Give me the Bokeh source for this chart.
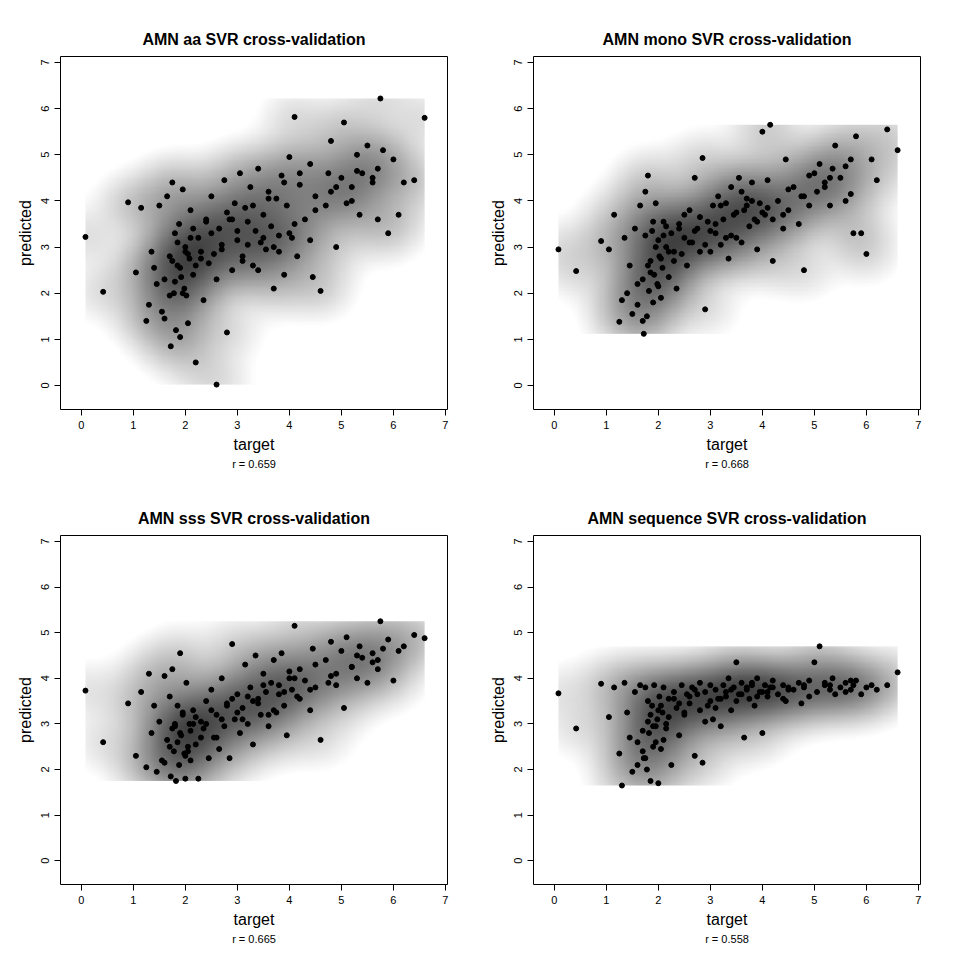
import numpy as np
from bokeh.plotting import figure
from bokeh.layouts import gridplot
from bokeh.models import FixedTicker, Title, LinearColorMapper
from bokeh.embed import file_html
from bokeh.resources import INLINE

target = [0.08, 0.42, 0.90, 1.05, 1.15, 1.25, 1.30, 1.35, 1.40, 1.45,
          1.50, 1.55, 1.60, 1.65, 1.70, 1.72, 1.75, 1.78, 1.80, 1.82,
          1.85, 1.88, 1.90, 1.92, 1.95, 1.98, 2.00, 2.02, 2.05, 2.08,
          2.10, 2.15, 2.20, 2.25, 2.30, 2.35, 2.40, 2.45, 2.50, 2.55,
          2.60, 2.65, 2.70, 2.75, 2.80, 2.85, 2.90, 2.95, 3.00, 3.05,
          3.10, 3.15, 3.20, 3.25, 3.30, 3.35, 3.40, 3.45, 3.50, 3.55,
          3.60, 3.65, 3.70, 3.75, 3.80, 3.85, 3.90, 3.95, 4.00, 4.05,
          4.10, 4.15, 4.20, 4.30, 4.40, 4.45, 4.50, 4.60, 4.70, 4.75,
          4.80, 4.90, 5.00, 5.05, 5.10, 5.20, 5.30, 5.35, 5.40, 5.50,
          5.60, 5.70, 5.75, 5.80, 5.90, 6.00, 6.10, 6.20, 6.40, 6.60,
          1.60, 1.75, 1.85, 1.95, 2.05, 2.15, 2.30, 2.50, 2.70, 2.90,
          3.10, 3.30, 3.50, 3.70, 3.90, 4.10, 4.40, 4.80, 5.20, 5.60,
          1.70, 1.80, 1.90, 2.00, 2.10, 2.20, 2.40, 2.60, 2.80, 3.00,
          3.20, 3.40, 3.60, 3.80, 4.00, 4.20, 4.50, 4.90, 5.30, 5.70]

pred_aa = [3.22, 2.03, 3.97, 2.45, 3.85, 1.40, 1.75, 2.90, 2.55, 2.20,
           3.90, 1.60, 1.45, 4.10, 2.80, 0.85, 4.40, 2.00, 3.30, 1.20,
           2.60, 3.50, 1.05, 2.35, 4.25, 2.10, 3.00, 1.95, 1.35, 2.75,
           3.80, 2.40, 0.50, 3.20, 2.90, 1.85, 3.55, 2.65, 4.10, 2.85,
           0.02, 3.40, 2.95, 4.45, 1.15, 3.60, 2.50, 3.95, 3.15, 4.60,
           2.70, 3.85, 3.05, 4.30, 2.60, 3.35, 4.70, 3.10, 3.70, 2.95,
           4.20, 3.45, 2.10, 4.05, 3.25, 4.55, 2.40, 3.90, 4.95, 3.20,
           5.82, 2.80, 4.35, 3.60, 4.80, 2.35, 4.10, 2.05, 3.90, 4.60,
           5.30, 3.00, 4.50, 5.70, 3.95, 4.30, 5.00, 3.70, 4.60, 5.20,
           4.40, 4.70, 6.22, 5.10, 3.30, 4.90, 3.70, 4.40, 4.45, 5.80,
           2.30, 2.70, 3.10, 2.00, 2.85, 3.40, 2.75, 3.30, 3.05, 3.60,
           2.80, 3.90, 3.20, 3.00, 4.40, 3.50, 3.15, 4.20, 4.00, 4.50,
           1.95, 2.25, 2.55, 2.90, 3.20, 2.60, 3.60, 2.30, 3.75, 3.35,
           3.55, 2.50, 4.05, 2.90, 3.30, 4.60, 3.80, 4.30, 4.65, 3.60]

pred_mono = [2.95, 2.48, 3.13, 2.95, 3.70, 1.38, 1.85, 3.20, 2.00, 2.60,
             1.55, 3.40, 1.75, 3.90, 2.30, 1.12, 4.20, 1.50, 4.55, 2.05,
             2.70, 3.35, 1.80, 2.40, 3.95, 2.20, 3.15, 2.80, 1.90, 2.55,
             3.55, 3.00, 2.35, 3.30, 2.70, 2.10, 3.50, 2.85, 3.20, 2.60,
             3.80, 3.10, 4.50, 3.40, 2.90, 4.93, 1.65, 3.55, 2.90, 3.90,
             3.30, 4.10, 3.05, 3.60, 3.95, 2.75, 4.30, 3.70, 3.20, 4.50,
             3.10, 3.80, 4.05, 3.45, 4.40, 3.60, 2.95, 3.95, 5.50, 3.70,
             3.85, 5.65, 2.70, 4.00, 3.40, 4.90, 3.80, 4.30, 3.50, 4.10,
             2.50, 3.90, 4.60, 4.20, 4.80, 4.40, 3.90, 4.70, 5.20, 4.50,
             4.00, 4.90, 3.30, 5.40, 3.30, 2.85, 4.90, 4.45, 5.55, 5.10,
             2.20, 3.25, 2.45, 3.00, 2.75, 3.45, 2.90, 3.70, 3.35, 3.05,
             3.50, 3.20, 3.75, 3.90, 3.55, 4.45, 3.70, 4.10, 4.30, 4.75,
             1.40, 2.60, 3.55, 2.15, 3.25, 2.90, 3.40, 3.10, 3.65, 3.35,
             3.90, 3.25, 4.20, 4.00, 3.75, 3.60, 4.25, 4.55, 4.50, 4.15]

pred_sss = [3.73, 2.60, 3.45, 2.30, 3.70, 2.05, 4.10, 2.80, 3.40, 1.95,
            3.05, 2.20, 4.05, 2.65, 3.60, 1.85, 4.20, 2.40, 2.95, 1.75,
            3.40, 2.10, 4.55, 2.75, 3.20, 2.35, 1.80, 3.90, 2.50, 3.00,
            2.20, 3.30, 2.55, 1.80, 3.05, 2.90, 3.50, 2.25, 3.75, 2.70,
            3.20, 2.45, 4.00, 2.95, 3.45, 2.25, 4.75, 3.10, 3.65, 2.80,
            3.35, 4.30, 3.00, 3.80, 2.55, 4.50, 3.55, 3.20, 4.10, 3.70,
            2.95, 3.90, 4.40, 3.25, 3.65, 4.55, 3.40, 2.75, 4.00, 3.75,
            5.15, 3.60, 4.20, 3.95, 3.30, 4.65, 3.80, 2.65, 4.40, 3.90,
            4.80, 3.85, 4.60, 3.35, 4.90, 4.25, 4.00, 4.70, 4.45, 3.90,
            4.55, 4.20, 5.25, 4.65, 4.85, 3.95, 4.60, 4.70, 4.95, 4.88,
            2.15, 2.90, 2.60, 3.25, 2.40, 3.00, 2.70, 3.30, 3.10, 3.55,
            3.10, 3.50, 3.85, 3.30, 3.70, 4.00, 3.75, 4.05, 4.25, 4.35,
            2.50, 3.00, 2.80, 2.30, 2.85, 3.15, 3.00, 2.70, 3.40, 3.25,
            3.60, 3.45, 3.20, 3.85, 4.15, 3.55, 4.30, 4.10, 4.50, 4.40]

pred_seq = [3.67, 2.90, 3.88, 3.15, 3.80, 2.35, 1.65, 3.90, 3.25, 2.70,
            1.95, 3.70, 2.10, 3.85, 2.40, 2.25, 3.80, 2.00, 3.50, 2.80,
            1.75, 3.40, 2.95, 3.85, 2.60, 3.10, 1.70, 3.60, 2.45, 3.25,
            3.80, 2.90, 3.55, 2.10, 3.70, 3.35, 2.75, 3.85, 3.20, 3.65,
            3.45, 3.80, 2.30, 3.65, 3.90, 2.15, 3.70, 3.40, 3.85, 3.10,
            3.75, 3.55, 2.95, 3.85, 3.60, 4.00, 3.30, 3.80, 4.35, 3.65,
            3.90, 2.70, 3.75, 3.55, 3.85, 3.40, 4.00, 3.70, 2.80, 3.85,
            3.60, 3.80, 3.95, 3.65, 3.85, 3.50, 3.80, 3.75, 3.90, 3.45,
            3.80, 3.95, 4.35, 3.70, 4.70, 3.85, 3.75, 4.00, 3.65, 3.80,
            3.90, 3.75, 3.85, 3.95, 3.65, 3.80, 3.85, 3.75, 3.85, 4.13,
            2.60, 2.25, 3.20, 2.95, 3.40, 3.00, 3.55, 3.25, 3.75, 3.05,
            3.35, 3.70, 3.50, 3.80, 3.60, 3.70, 3.55, 3.85, 3.90, 3.70,
            2.85, 3.05, 2.50, 3.30, 2.65, 3.15, 3.45, 3.60, 3.30, 3.50,
            3.55, 3.75, 3.65, 3.90, 3.70, 3.80, 3.75, 3.60, 3.85, 3.95]

titles = ["AMN aa SVR cross-validation", "AMN mono SVR cross-validation",
          "AMN sss SVR cross-validation", "AMN sequence SVR cross-validation"]
r_labels = ["r = 0.659", "r = 0.668", "r = 0.665", "r = 0.558"]
ticks = [0, 1, 2, 3, 4, 5, 6, 7]

FONT = "Liberation Sans"
gray = ["#%02x%02x%02x" % (v, v, v) for v in np.linspace(255, 0, 256).astype(int)]


def panel(x, y, title, rlab, borders):
    left, right, top, bottom = borders
    w = left + 387 + right
    h = top + 353 + bottom
    p = figure(width=w, height=h, x_range=(-0.4, 7.04), y_range=(-0.52, 7.13),
               output_backend="svg", toolbar_location=None,
               min_border_left=left, min_border_right=right,
               min_border_top=top, min_border_bottom=bottom)
    p.grid.visible = False
    p.outline_line_color = "black"
    p.outline_line_width = 1
    x = np.array(x); y = np.array(y)
    x0, x1, y0, y1 = x.min(), x.max(), y.min(), y.max()
    gx = np.linspace(x0, x1, 160); gy = np.linspace(y0, y1, 160)
    X, Y = np.meshgrid(gx, gy)
    bw = 0.4
    d = np.zeros_like(X)
    for a, b in zip(x, y):
        d += np.exp(-((X - a) ** 2 + (Y - b) ** 2) / (2 * bw * bw))
    d = (d / d.max()) ** 0.5
    cm = LinearColorMapper(palette=gray, low=0.1, high=1.3)
    p.image(image=[d], x=x0, y=y0, dw=x1 - x0, dh=y1 - y0, color_mapper=cm)
    p.scatter(x, y, size=5, color="black")
    p.title.text = title
    p.title.align = "center"
    p.title.text_color = "black"
    p.title.text_font = FONT
    p.title.text_font_size = "16px"
    p.title.text_font_style = "bold"
    p.title.standoff = 18
    for ax in (p.xaxis[0], p.yaxis[0]):
        ax.ticker = FixedTicker(ticks=ticks)
        ax.axis_line_color = None
        ax.major_tick_out = 6
        ax.major_tick_in = 0
        ax.minor_tick_line_color = None
        ax.major_label_text_font = FONT
        ax.major_label_text_font_size = "11px"
        ax.major_label_text_color = "black"
        ax.axis_label_text_color = "black"
        ax.axis_label_text_font = FONT
        ax.axis_label_text_font_size = "16px"
        ax.axis_label_text_font_style = "normal"
    p.xaxis.axis_label = "target"
    p.yaxis.axis_label = "predicted"
    p.yaxis.major_label_orientation = "vertical"
    p.xaxis.axis_label_standoff = 4
    t = Title(text=rlab, align="center", text_font=FONT, text_font_size="11px",
              text_font_style="normal", text_color="black", standoff=0, offset=0)
    p.add_layout(t, "below")
    return p


p1 = panel(target, pred_aa, titles[0], r_labels[0], (60, 25, 56, 60))
p2 = panel(target, pred_mono, titles[1], r_labels[1], (61, 24, 56, 60))
p3 = panel(target, pred_sss, titles[2], r_labels[2], (60, 25, 66, 56))
p4 = panel(target, pred_seq, titles[3], r_labels[3], (61, 24, 66, 56))

g = gridplot([[p1, p2], [p3, p4]], toolbar_location=None)
open("out.html", "w").write(file_html(g, INLINE))
